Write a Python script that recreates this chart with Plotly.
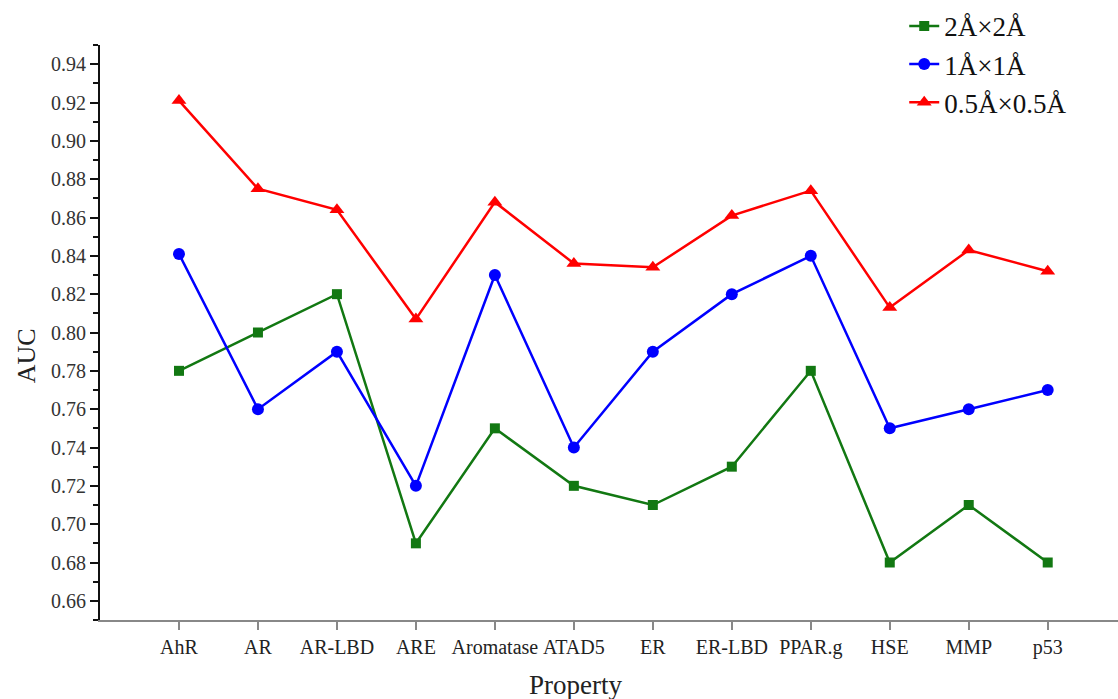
import plotly.graph_objects as go

properties = ["AhR", "AR", "AR-LBD", "ARE", "Aromatase", "ATAD5", "ER",
              "ER-LBD", "PPAR.g", "HSE", "MMP", "p53"]
auc_2x2 = [0.78, 0.80, 0.82, 0.69, 0.75, 0.72, 0.71, 0.73, 0.78, 0.68, 0.71, 0.68]
auc_1x1 = [0.841, 0.76, 0.79, 0.72, 0.83, 0.74, 0.79, 0.82, 0.84, 0.75, 0.76, 0.77]
auc_05x05 = [0.921, 0.875, 0.864, 0.807, 0.868, 0.836, 0.834, 0.861, 0.874,
             0.813, 0.843, 0.832]
y_ticks = [0.66, 0.68, 0.70, 0.72, 0.74, 0.76, 0.78, 0.80, 0.82, 0.84, 0.86,
           0.88, 0.90, 0.92, 0.94]

x_idx = list(range(len(properties)))

fig = go.Figure()
series = [
    ("2Å×2Å", auc_2x2, "#127812", "square", 10),
    ("1Å×1Å", auc_1x1, "#0000ff", "circle", 12),
    ("0.5Å×0.5Å", auc_05x05, "#ff0000", "triangle-up", 13),
]
for name, vals, color, symbol, size in series:
    fig.add_trace(go.Scatter(
        x=x_idx, y=vals, name=name, mode="lines+markers",
        line=dict(color=color, width=2.5),
        marker=dict(symbol=symbol, size=size, color=color),
    ))

fig.update_layout(
    width=1118, height=699,
    margin=dict(l=100, r=0, t=45, b=79),
    plot_bgcolor="white", paper_bgcolor="white",
    font=dict(family="Liberation Serif", color="#222222"),
    showlegend=True,
    legend=dict(
        x=0.79, y=1.075, xanchor="left", yanchor="top",
        font=dict(size=27, family="Liberation Serif", color="#111111"),
        bgcolor="rgba(0,0,0,0)", tracegroupgap=0,
    ),
    annotations=[
        dict(text="AUC", xref="paper", yref="paper", x=-0.072, y=0.46,
             xanchor="center", yanchor="middle", textangle=-90,
             showarrow=False,
             font=dict(size=26, family="Liberation Serif", color="#222222")),
        dict(text="Property", xref="paper", yref="paper", x=0.467, y=-0.113,
             xanchor="center", yanchor="middle", showarrow=False,
             font=dict(size=27, family="Liberation Serif", color="#222222")),
    ],
)
fig.update_xaxes(
    range=[-1, 11.89],
    tickmode="array", tickvals=x_idx, ticktext=properties,
    showline=True, linecolor="#888888", linewidth=1.5,
    ticks="outside", tickcolor="#888888", ticklen=8, tickwidth=1.5,
    showgrid=False, zeroline=False,
    tickfont=dict(size=20, family="Liberation Serif", color="#222222"),
)
fig.update_yaxes(
    range=[0.65, 0.95],
    tickmode="array", tickvals=y_ticks,
    ticktext=[f"{v:.2f}" for v in y_ticks],
    showline=True, linecolor="#111111", linewidth=2,
    ticks="outside", tickcolor="#111111", ticklen=8, tickwidth=2,
    minor=dict(ticks="outside", dtick=0.01, tick0=0.65, ticklen=5,
               tickcolor="#111111", tickwidth=1.5, showgrid=False),
    showgrid=False, zeroline=False,
    tickfont=dict(size=20, family="Liberation Serif", color="#333333"),
)

fig.write_html("out.html")
